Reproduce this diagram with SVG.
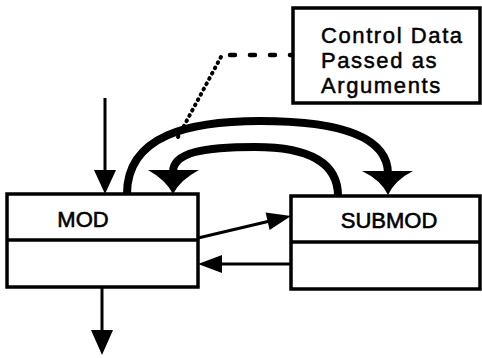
<svg xmlns="http://www.w3.org/2000/svg" width="482" height="358" viewBox="0 0 482 358">
  <style>
    .box { fill: #fff; stroke: #000; stroke-width: 3.5; }
    .div { stroke: #000; stroke-width: 3.5; }
    .lbl { font-family: "Liberation Sans", Arial, sans-serif; font-size: 22px; fill: #000; stroke: #000; stroke-width: 0.6; }
    .note { font-family: "Liberation Sans", Arial, sans-serif; font-size: 22px; fill: #000; stroke: #000; stroke-width: 0.5; letter-spacing: 1.6px; }
    .thin { stroke: #000; stroke-width: 3; fill: none; }
    .thick { stroke: #000; stroke-width: 8; fill: none; stroke-linecap: butt; }
    .head { fill: #000; stroke: none; }
  </style>
  <rect width="482" height="358" fill="#fff"/>

  <!-- annotation callout -->
  <g id="note">
    <rect class="box" x="293" y="8" width="187" height="95"/>
    <text class="note" x="321" y="43">Control Data</text>
    <text class="note" x="321" y="68">Passed as</text>
    <text class="note" x="321" y="93">Arguments</text>
  </g>

  <g id="mod">
    <rect class="box" x="7" y="194" width="191" height="93"/>
    <line class="div" x1="7" y1="240" x2="198" y2="240"/>
    <text class="lbl" x="83" y="227" text-anchor="middle">MOD</text>
  </g>

  <g id="submod">
    <rect class="box" x="291" y="196" width="189" height="93"/>
    <line class="div" x1="291" y1="242" x2="480" y2="242"/>
    <text class="lbl" x="389" y="228" text-anchor="middle">SUBMOD</text>
  </g>

  <g id="connectors">
    <!-- call into MOD -->
    <line class="thin" x1="105" y1="98" x2="105" y2="172"/>
    <polygon class="head" points="94,170 116,170 105,194"/>
    <!-- return out of MOD -->
    <line class="thin" x1="102" y1="287" x2="102" y2="332"/>
    <polygon class="head" points="91,330 113,330 102,355"/>
    <!-- data flow MOD -> SUBMOD -->
    <line class="thin" x1="198" y1="238" x2="270" y2="221"/>
    <polygon class="head" points="291,216 269.6,230.1 265.6,212.5"/>
    <!-- data flow SUBMOD -> MOD -->
    <line class="thin" x1="291" y1="264" x2="220" y2="264"/>
    <polygon class="head" points="198,264 222,255 222,273"/>
    <!-- control flow MOD -> SUBMOD -->
    <path class="thick" d="M127,194 C127,135 190,121 260,121 C335,121 388,135 388,174"/>
    <path class="head" d="M362,171 L413,171 Q395,180 388,195 Q381,180 362,171 Z"/>
    <!-- control flow SUBMOD -> MOD -->
    <path class="thick" d="M338,196 C338,160 305,147 255,147 C205,147 173,152 173,172"/>
    <path class="head" d="M148,170 L199,170 Q180,180 173,194 Q166,180 148,170 Z"/>
    <!-- leader from callout -->
    <path d="M178,137 L222,55" stroke="#000" stroke-width="4" stroke-linecap="round" stroke-dasharray="0.8 5.2" fill="none"/>
    <path d="M230,55 L292,55" stroke="#000" stroke-width="4.5" stroke-linecap="round" stroke-dasharray="5 15" fill="none"/>
  </g>
</svg>
